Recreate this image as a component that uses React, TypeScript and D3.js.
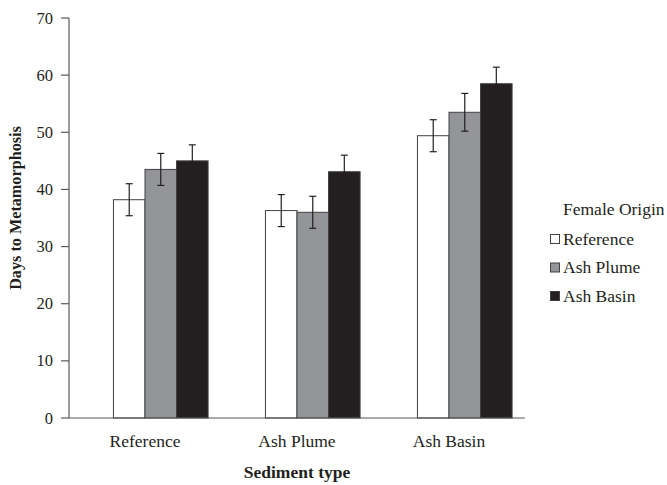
import React from "react";
import * as d3 from "d3";

const categories = ["Reference", "Ash Plume", "Ash Basin"];
const seriesNames = ["Reference", "Ash Plume", "Ash Basin"];
const seriesColors = ["#ffffff", "#939598", "#231f20"];
const values = [
  [38.2, 43.5, 45.0],
  [36.3, 36.0, 43.1],
  [49.4, 53.5, 58.5],
];
const errors = [
  [2.8, 2.8, 2.8],
  [2.8, 2.8, 2.9],
  [2.8, 3.3, 2.9],
];
const yTicks = [0, 10, 20, 30, 40, 50, 60, 70];

const W = 667;
const H = 485;
const left = 69;
const right = 525;
const top = 18;
const bottom = 418;
const font = "'Liberation Serif', 'Times New Roman', serif";
const ink = "#231f20";

export default function App() {
  const x0 = d3.scaleBand<string>().domain(categories).range([left, right]).paddingInner(0).paddingOuter(0);
  const y = d3.scaleLinear().domain([0, 70]).range([bottom, top]);
  const clusterW = x0.bandwidth() * 0.83;
  // four slots per cluster, the first slot is empty
  const x1 = d3.scaleBand<number>().domain([0, 1, 2, 3]).range([0, clusterW]).padding(0);
  const bw = x1.bandwidth();
  const cap = 3.5;

  return (
    <svg width={W} height={H} style={{ position: "absolute", left: 0, top: 0 }}>
      <rect x={0} y={0} width={W} height={H} fill="#fff" />
      {categories.map((c, ci) => {
        const cx = (x0(c) as number) + x0.bandwidth() / 2 - clusterW / 2;
        return (
          <g key={c}>
            {values[ci].map((v, si) => {
              const bx = cx + (x1(si + 1) as number);
              return (
                <rect
                  key={si}
                  x={bx}
                  y={y(v)}
                  width={bw}
                  height={y(0) - y(v)}
                  fill={seriesColors[si]}
                  stroke="#414042"
                  strokeWidth={1}
                />
              );
            })}
            {values[ci].map((v, si) => {
              const mx = cx + (x1(si + 1) as number) + bw / 2;
              const e = errors[ci][si];
              return (
                <g key={"e" + si} stroke={ink} strokeWidth={1.2}>
                  <line x1={mx} x2={mx} y1={y(v + e)} y2={y(v - e)} />
                  <line x1={mx - cap} x2={mx + cap} y1={y(v + e)} y2={y(v + e)} />
                  <line x1={mx - cap} x2={mx + cap} y1={y(v - e)} y2={y(v - e)} />
                </g>
              );
            })}
            <text
              x={(x0(c) as number) + x0.bandwidth() / 2}
              y={447}
              textAnchor="middle"
              fontFamily={font}
              fontSize={17.5}
              fill={ink}
            >
              {c}
            </text>
          </g>
        );
      })}
      {/* axes */}
      <line x1={left} x2={left} y1={top} y2={bottom} stroke="#58595b" strokeWidth={1.2} />
      <line x1={left} x2={right} y1={bottom} y2={bottom} stroke="#58595b" strokeWidth={1.2} />
      {yTicks.map((t) => (
        <g key={t}>
          <line x1={left - 8} x2={left} y1={y(t)} y2={y(t)} stroke="#58595b" strokeWidth={1.2} />
          <text
            x={left - 16}
            y={y(t) + 5.5}
            textAnchor="end"
            fontFamily={font}
            fontSize={16.5}
            fill={ink}
          >
            {t}
          </text>
        </g>
      ))}
      <text
        transform={`translate(21,${(top + bottom) / 2 - 10}) rotate(-90)`}
        textAnchor="middle"
        fontFamily={font}
        fontSize={16.2}
        fontWeight="bold"
        fill={ink}
      >
        Days to Metamorphosis
      </text>
      <text
        x={(left + right) / 2}
        y={478}
        textAnchor="middle"
        fontFamily={font}
        fontSize={17.5}
        fontWeight="bold"
        fill={ink}
      >
        Sediment type
      </text>
      {/* legend */}
      <text x={563} y={215} fontFamily={font} fontSize={17.5} fill={ink}>
        Female Origin
      </text>
      {seriesNames.map((s, i) => (
        <g key={s}>
          <rect
            x={550.5}
            y={234.5 + i * 28.5}
            width={9}
            height={9}
            fill={seriesColors[i]}
            stroke="#414042"
            strokeWidth={1}
          />
          <text x={563} y={244.5 + i * 28.5} fontFamily={font} fontSize={17.5} fill={ink}>
            {s}
          </text>
        </g>
      ))}
    </svg>
  );
}
